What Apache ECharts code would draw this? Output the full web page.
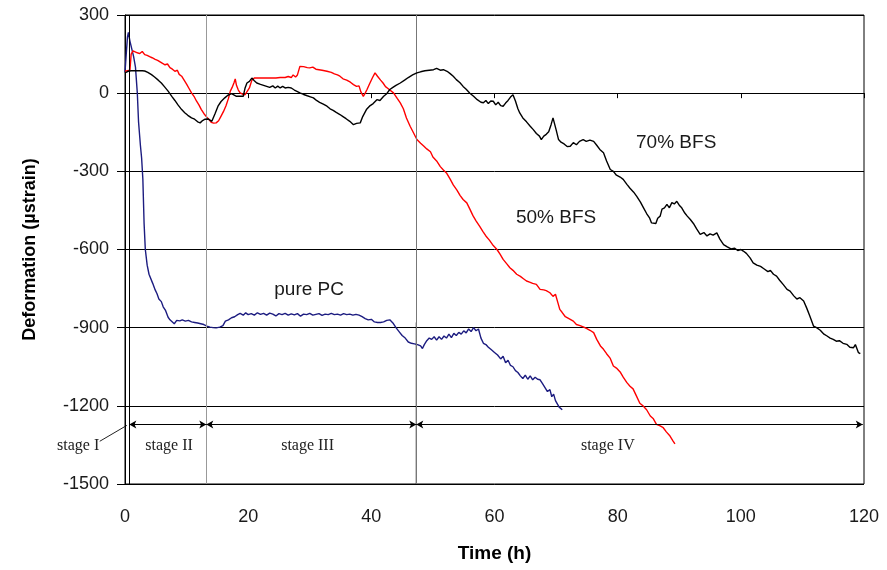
<!DOCTYPE html>
<html><head><meta charset="utf-8">
<script src="https://cdn.jsdelivr.net/npm/echarts@6/dist/echarts.min.js"></script>
<style>html,body{margin:0;padding:0;background:#fff}#c{width:887px;height:570px}</style>
</head><body><div id="c"></div>
<script>
// ---- data (time in h, deformation in µstrain) ----
const xTicks = [0, 20, 40, 60, 80, 100, 120];
const yTicks = [300, 0, -300, -600, -900, -1200, -1500];

const pcTime = [0,0.2,0.4,0.55,0.8,1.1,1.4,1.7,2.0,2.2,2.4,2.5,2.7,2.9,3.1,3.3,3.6,3.9,4.2,4.5,4.9,5.2,5.5,5.9,6.2,6.6,7.0,7.3,7.6,8.0,8.4,8.9,9.3,9.8,10.3,10.8,11.3,11.8,12.3,12.8,13.3,13.8,14.3,14.8,15.4,15.9,16.3,16.8,17.3,17.8,18.3,18.7,19.2,19.6,20.0,20.5,21.0,21.5,22.0,22.5,23.0,23.5,24.0,24.5,25.0,25.5,26.0,26.5,27.0,27.5,28.0,28.5,29.0,29.5,30.0,30.5,31.0,31.5,32.0,32.5,33.0,33.5,34.0,34.5,35.0,35.5,36.0,36.5,37.0,37.5,38.0,38.5,39.0,39.5,40.0,40.5,41.0,41.5,42.0,42.5,43.0,43.5,44.0,44.5,45.0,45.5,46.0,46.5,47.0,47.5,48.0,48.3,48.6,49.0,49.4,49.8,50.2,50.6,51.0,51.4,51.8,52.2,52.6,53.0,53.4,53.8,54.2,54.6,55.0,55.4,55.8,56.2,56.6,57.0,57.4,57.8,58.2,58.6,59.0,59.5,60.0,60.5,61.0,61.4,61.8,62.2,62.6,63.0,63.4,63.8,64.2,64.6,65.0,65.4,65.8,66.2,66.6,67.0,67.4,67.8,68.2,68.6,69.0,69.3,69.6,69.9,70.2,70.5,70.8,71.0];
const pcVal = [80,150,215,233,200,170,140,100,0,-110,-170,-200,-250,-330,-500,-600,-660,-695,-700,-730,-755,-770,-790,-800,-820,-835,-860,-870,-868,-885,-872,-874,-870,-875,-872,-878,-880,-882,-885,-888,-894,-898,-900,-901,-898,-892,-875,-870,-862,-858,-850,-845,-852,-843,-850,-846,-852,-843,-849,-845,-852,-844,-848,-855,-846,-850,-845,-852,-847,-851,-846,-856,-848,-850,-845,-852,-849,-846,-853,-848,-850,-845,-850,-848,-852,-846,-850,-848,-852,-849,-852,-858,-865,-870,-868,-878,-880,-880,-878,-872,-870,-882,-900,-915,-930,-940,-955,-960,-962,-965,-970,-980,-965,-950,-940,-945,-935,-948,-935,-945,-932,-940,-925,-938,-922,-930,-918,-925,-912,-920,-905,-915,-900,-912,-905,-940,-960,-965,-975,-985,-995,-1005,-1020,-1010,-1035,-1025,-1045,-1050,-1065,-1072,-1085,-1095,-1082,-1098,-1085,-1100,-1090,-1098,-1100,-1115,-1130,-1145,-1138,-1165,-1155,-1180,-1185,-1205,-1200,-1215];

const bfs50Time = [0,0.8,1.0,1.3,1.6,2.0,2.4,2.8,3.2,3.6,4.0,4.4,4.9,5.3,5.7,6.1,6.5,6.9,7.3,7.7,8.1,8.5,8.8,9.2,9.6,10.0,10.4,10.8,11.2,11.6,12.0,12.4,12.8,13.2,13.6,14.0,14.4,14.8,15.2,15.6,16.0,16.4,16.8,17.1,17.4,17.7,17.9,18.1,18.4,18.7,19.1,19.5,19.8,20.2,20.6,21.0,21.5,22.5,23.5,24.5,25.2,25.5,26.0,26.5,27.0,27.3,27.7,28.0,28.4,29.0,29.6,30.0,30.5,31.0,31.5,32.0,32.8,33.5,34.0,34.5,34.9,35.4,36.0,36.6,37.1,37.6,38.0,38.3,38.7,39.0,39.3,39.7,40.2,40.6,41.0,41.5,41.9,42.3,42.7,43.0,43.6,44.2,44.7,45.2,45.7,46.3,46.8,47.4,48.0,48.5,49.0,49.6,50.0,50.6,51.2,51.7,52.2,52.8,53.3,53.9,54.4,54.9,55.5,56.0,56.5,57.0,57.6,58.1,58.6,59.2,59.8,60.4,60.9,61.4,62.0,62.5,63.0,63.6,64.2,64.7,65.2,65.7,66.2,66.8,67.4,68.0,68.4,69.0,69.5,69.9,70.3,70.6,71.0,71.5,72.3,72.8,73.3,73.9,74.5,75.0,75.5,76.1,76.6,77.2,77.7,78.2,78.8,79.3,79.8,80.4,80.9,81.5,82.0,82.5,83.0,83.6,84.1,84.7,85.3,85.8,86.3,86.9,87.4,87.9,88.5,89.0,89.3];
const bfs50Val = [84,88,150,162,158,155,152,160,148,145,140,136,130,126,120,114,109,112,98,92,84,88,72,65,50,35,18,1,-12,-30,-45,-63,-78,-90,-100,-112,-115,-114,-106,-88,-70,-48,-20,8,22,40,55,30,12,1,-4,-6,-4,20,50,58,58,58,58,58,60,66,60,64,60,70,62,70,103,102,98,97,100,92,90,88,84,80,74,70,65,55,50,42,33,26,28,5,-12,0,14,35,60,78,65,50,39,25,18,14,1,-20,-37,-60,-95,-127,-150,-178,-192,-203,-214,-225,-245,-260,-282,-295,-306,-330,-352,-372,-392,-408,-421,-445,-470,-490,-511,-530,-548,-565,-585,-600,-618,-638,-655,-670,-680,-695,-703,-712,-721,-725,-730,-734,-753,-755,-758,-766,-780,-772,-805,-830,-842,-858,-868,-875,-888,-892,-898,-904,-910,-919,-945,-970,-983,-1000,-1018,-1047,-1055,-1070,-1090,-1111,-1125,-1135,-1160,-1190,-1200,-1215,-1239,-1250,-1271,-1277,-1284,-1300,-1316,-1335,-1346];

const bfs70Time = [0,0.5,1.0,1.6,2.2,2.8,3.2,3.7,4.3,4.8,5.4,5.9,6.4,7.0,7.6,8.1,8.6,9.2,9.7,10.2,10.8,11.3,11.8,12.2,12.6,13.0,13.5,13.8,14.1,14.6,15.1,15.6,16.2,16.7,17.3,17.6,18.1,18.6,19.2,19.5,19.8,20.2,20.6,21.0,21.4,22.0,22.5,23.0,23.5,24.0,24.4,24.8,25.2,25.6,26.0,26.5,27.0,27.5,28.0,28.4,29.0,29.6,30.1,30.6,31.1,31.6,32.2,32.8,33.3,33.8,34.3,34.9,35.4,35.9,36.5,37.1,37.6,38.2,38.6,39.2,39.7,40.3,40.9,41.4,42.0,42.5,43.0,43.5,44.0,44.7,45.4,46.0,46.7,47.4,48.0,48.7,49.4,50.1,50.6,51.2,51.7,52.3,52.8,53.3,53.8,54.4,54.9,55.4,56.0,56.6,57.2,57.8,58.2,58.6,59.0,59.4,59.8,60.2,60.6,61.0,61.4,61.8,62.2,62.6,63.0,63.4,63.8,64.1,64.6,65.2,65.8,66.3,66.8,67.3,67.6,68.0,68.4,68.8,69.2,69.5,69.7,70.0,70.4,70.8,71.3,71.8,72.3,72.8,73.3,73.8,74.4,74.9,75.5,76.1,76.6,77.1,77.7,78.2,78.8,79.3,79.8,80.4,80.9,81.5,82.0,82.6,83.1,83.7,84.2,84.7,85.2,85.5,85.8,86.2,86.5,86.9,87.2,87.6,88.0,88.4,88.8,89.2,89.6,90.0,90.4,90.9,91.3,91.8,92.3,92.8,93.4,94.0,94.5,95.0,95.5,96.1,96.6,97.2,97.8,98.4,99.0,99.5,100.0,100.4,100.9,101.5,102.0,102.6,103.2,103.8,104.4,104.8,105.3,105.8,106.3,106.9,107.5,108.0,108.6,109.1,109.6,110.2,110.7,111.2,111.8,112.3,112.9,113.5,114.0,114.5,115.0,115.5,116.0,116.6,117.2,117.7,118.3,118.6,119.1,119.4];
const bfs70Val = [78,84,86,86,86,86,85,80,71,62,50,39,25,8,-12,-28,-45,-63,-75,-85,-95,-100,-110,-114,-105,-100,-99,-106,-108,-80,-50,-32,-18,-8,-2,-6,-12,-12,-12,20,39,45,58,48,39,34,30,26,22,28,20,27,20,26,20,22,20,12,6,1,-5,-10,-14,-18,-28,-35,-42,-50,-60,-66,-74,-82,-90,-98,-108,-121,-116,-114,-90,-63,-50,-40,-25,-28,-12,-2,14,22,30,39,50,60,70,78,82,86,88,90,95,88,90,84,75,65,52,40,26,15,0,-12,-25,-35,-37,-28,-40,-30,-31,-45,-35,-48,-50,-38,-28,-15,-6,-30,-60,-76,-95,-110,-127,-140,-155,-165,-178,-165,-158,-148,-120,-95,-89,-140,-178,-188,-195,-205,-204,-190,-198,-185,-178,-185,-180,-185,-200,-216,-229,-260,-293,-300,-315,-322,-331,-350,-365,-380,-396,-418,-440,-462,-480,-498,-492,-500,-480,-472,-445,-440,-427,-440,-420,-425,-415,-430,-440,-460,-472,-485,-500,-520,-542,-535,-548,-540,-545,-536,-560,-581,-590,-598,-595,-604,-600,-606,-615,-632,-651,-660,-665,-675,-685,-680,-695,-702,-718,-735,-753,-760,-778,-790,-785,-798,-825,-855,-894,-900,-910,-925,-932,-940,-945,-952,-950,-960,-964,-975,-977,-965,-996,-1000];

// stage boundaries (h) and stage annotation
const stageBounds = [0.7, 13.2, 47.3, 119.8];
const stageNames = ['stage I', 'stage II', 'stage III', 'stage IV'];
const stageArrowY = -1272;
const stageLabelY = -1355;

// curve labels
const curveLabels = [
  {text: '70% BFS', x: 89.5, y: -190},
  {text: '50% BFS', x: 70.0, y: -477},
  {text: 'pure PC', x: 29.9, y: -753}
];

const zip = (a, b) => a.map((v, i) => [v, b[i]]);

const chart = echarts.init(document.getElementById('c'));
const axisFont = {fontFamily: 'Liberation Sans, Arial, sans-serif', fontSize: 18, color: '#1a1a1a'};

const arrowLines = [];
for (let i = 0; i < 3; i++) {
  arrowLines.push([{coord: [stageBounds[i], stageArrowY]}, {coord: [stageBounds[i + 1], stageArrowY]}]);
}

chart.setOption({
  animation: false,
  grid: {left: 125, right: 23, top: 15, bottom: 86, show: true, borderColor: '#000', borderWidth: 1, backgroundColor: 'transparent'},
  xAxis: {
    type: 'value', min: 0, max: 120, interval: 20,
    name: 'Time (h)', nameLocation: 'middle', nameGap: 60,
    nameTextStyle: {fontFamily: 'Liberation Sans, Arial, sans-serif', fontSize: 19, fontWeight: 'bold', color: '#000'},
    axisLine: {lineStyle: {color: '#000', width: 1}},
    axisTick: {show: true, length: 5, lineStyle: {color: '#000'}},
    axisLabel: Object.assign({margin: 24, formatter: v => String(v)}, axisFont),
    splitLine: {show: false}
  },
  yAxis: {
    type: 'value', min: -1500, max: 300, interval: 300,
    name: 'Deformation (µstrain)', nameLocation: 'middle', nameGap: 86,
    nameTextStyle: {fontFamily: 'Liberation Sans, Arial, sans-serif', fontSize: 18, fontWeight: 'bold', color: '#000'},
    axisLine: {lineStyle: {color: '#000', width: 1}},
    axisTick: {show: true, length: 8, lineStyle: {color: '#000'}},
    axisLabel: Object.assign({margin: 16, formatter: v => String(v)}, axisFont),
    splitLine: {show: true, lineStyle: {color: '#000', width: 1}}
  },
  series: [
    {
      type: 'line', name: '70% BFS', data: zip(bfs70Time, bfs70Val), symbol: 'none',
      lineStyle: {color: '#000', width: 1.4}, z: 5,
      markLine: {
        silent: true, symbol: 'none', animation: false, label: {show: false},
        data: [
          {xAxis: stageBounds[0], lineStyle: {color: '#000', width: 1, type: 'solid'}},
          {xAxis: stageBounds[1], lineStyle: {color: '#999', width: 1, type: 'solid'}},
          {xAxis: stageBounds[2], lineStyle: {color: '#777', width: 1, type: 'solid'}}
        ]
      }
    },
    {
      type: 'line', name: '50% BFS', data: zip(bfs50Time, bfs50Val), symbol: 'none',
      lineStyle: {color: '#ff0000', width: 1.4}, z: 4,
      markLine: {
        silent: true, symbol: ['arrow', 'arrow'], symbolSize: [6, 7], animation: false,
        label: {show: false},
        lineStyle: {color: '#000', width: 1, type: 'solid'},
        data: arrowLines
      }
    },
    {
      type: 'line', name: 'pure PC', data: zip(pcTime, pcVal), symbol: 'none',
      lineStyle: {color: '#1c1c80', width: 1.4}, z: 3
    }
  ]
});

// text annotations positioned through the chart's own coordinate system
const px = (x, y) => chart.convertToPixel({gridIndex: 0}, [x, y]);
const graphics = [];
curveLabels.forEach(l => {
  const p = px(l.x, l.y);
  graphics.push({type: 'text', x: p[0], y: p[1], style: {text: l.text, fill: '#1a1a1a', font: '19px "Liberation Sans", Arial, sans-serif', textAlign: 'center', textVerticalAlign: 'middle'}});
});
const stageCenters = [-7.6, (stageBounds[0] + stageBounds[1]) / 2 + 0.2, (stageBounds[1] + stageBounds[2]) / 2 - 0.6, 78.4];
stageNames.forEach((s, i) => {
  const p = px(stageCenters[i], stageLabelY);
  graphics.push({type: 'text', x: p[0], y: p[1], style: {text: s, fill: '#222', font: '16px "Liberation Serif", "Times New Roman", serif', textAlign: 'center', textVerticalAlign: 'middle'}});
});
const a = px(-4.1, -1336), b = px(0.3, -1275);
graphics.push({type: 'line', shape: {x1: a[0], y1: a[1], x2: b[0], y2: b[1]}, style: {stroke: '#222', lineWidth: 1}});
// darker lower part of the stage III/IV boundary line
const c1 = px(stageBounds[2], -1500), c2 = px(stageBounds[2], -880);
graphics.push({type: 'line', shape: {x1: c1[0], y1: c1[1], x2: c2[0], y2: c2[1]}, style: {stroke: '#000', lineWidth: 1}});
chart.setOption({graphic: graphics});
</script>
</body></html>
